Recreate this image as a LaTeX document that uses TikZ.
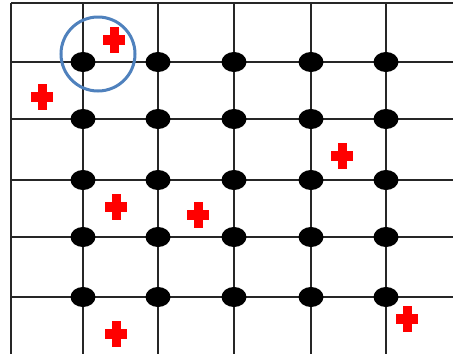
\documentclass[tikz,border=0pt]{standalone}
\usepackage{xcolor}
\usepackage{tikz}
\definecolor{ringblue}{RGB}{79,129,189}
\definecolor{crossred}{RGB}{255,0,0}
\tikzset{
  gridline/.style={line width=1.6pt,black!85},
  latticept/.style={ellipse,fill=black,inner sep=0pt,minimum width=25pt,minimum height=20pt},
  plusarm/.style={fill=crossred}
}
\usetikzlibrary{shapes.geometric}
\begin{document}
\begin{tikzpicture}[x=1pt,y=-1pt]
    \useasboundingbox (0,0) rectangle (453,354);
    % Grid lines
    \foreach \gx in {11,83,158,234,311,386}
        \draw[gridline] (\gx,3) -- (\gx,354);
    \foreach \gy in {3,62,119,180,237,297}
        \draw[gridline] (11,\gy) -- (453,\gy);
    % Lattice points
    \foreach \gx [count=\i] in {83,158,234,311,386}
        \foreach \gy [count=\j] in {62,119,180,237,297}
            \node[latticept] (p\i\j) at (\gx,\gy) {};
    % Red crosses
    \foreach \cx/\cy in {114/40,42/97,342/156,116/207,198/215,116/334,407/319} {
        \fill[plusarm] (\cx-11,\cy-5) rectangle (\cx+11,\cy+5);
        \fill[plusarm] (\cx-4.5,\cy-13) rectangle (\cx+4.5,\cy+13);
    }
    % Highlight ring
    \draw[ringblue,line width=3pt] (98,54) circle (37);
\end{tikzpicture}
\end{document}
